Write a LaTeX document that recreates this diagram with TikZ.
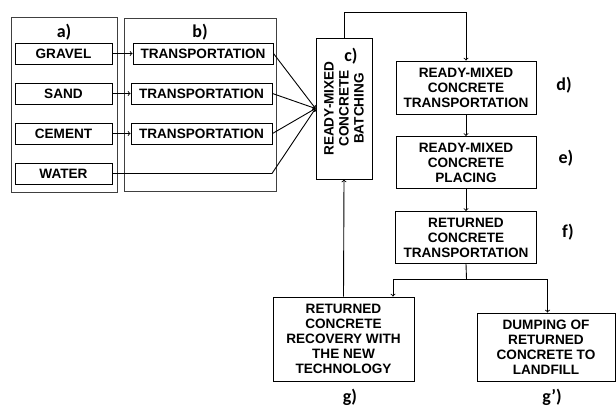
\documentclass[tikz,border=0pt]{standalone}
\usepackage{fontspec}
\setmainfont{Liberation Sans}
\newfontfamily\tagfont{Carlito}
\usetikzlibrary{shapes, arrows}
\tikzstyle{block} = [rectangle, draw, line width=1pt, inner sep=0pt, align=center, font=\fontsize{13.6}{15}\selectfont\bfseries]
\tikzstyle{group} = [draw=black!75, line width=0.8pt]
\tikzstyle{tag} = [font=\fontsize{18}{20}\selectfont\tagfont\bfseries]
\tikzstyle{line} = [draw, line width=0.9pt, ->]

\begin{document}
\begin{tikzpicture}[x=1pt, y=-1pt, node distance=75pt]
    \useasboundingbox (0,0) rectangle (616,407);

    % raw materials and their transport
    \draw[group] (11,17) rectangle (117,192);
    \draw[group] (124,18) rectangle (276,191);
    \node[tag] (taga) at (64,32) {a)};
    \node[tag] (tagb) at (200,32) {b)};

    \node[block, minimum width=97pt, minimum height=21pt] (gravel) at (63.5,53.5) {GRAVEL};
    \node[block, minimum width=97pt, minimum height=21pt] (sand) at (63.5,93.5) {SAND};
    \node[block, minimum width=97pt, minimum height=21pt] (cement) at (63.5,133.5) {CEMENT};
    \node[block, minimum width=97pt, minimum height=21pt] (water) at (63.5,173.5) {WATER};

    \node[block, minimum width=140pt, minimum height=21pt] (trgravel) at (203,53.5) {TRANSPORTATION};
    \node[block, minimum width=141pt, minimum height=21pt] (trsand) at (201.5,93.5) {TRANSPORTATION};
    \node[block, minimum width=141pt, minimum height=21pt] (trcement) at (201.5,133.5) {TRANSPORTATION};

    % plant and delivery chain
    \node[block, rotate=90, minimum width=141pt, minimum height=56pt] (batch) at (344,108.5) {READY-MIXED\\CONCRETE\\BATCHING};
    \node[tag] (tagc) at (351,56) {c)};

    \node[block, minimum width=140pt, minimum height=53pt] (deliver) at (466,87.5) {READY-MIXED\\CONCRETE\\TRANSPORTATION};
    \node[block, minimum width=140pt, minimum height=52pt, below of=deliver] (placing) {READY-MIXED\\CONCRETE\\PLACING};
    \node[block, minimum width=141pt, minimum height=52pt, below of=placing] (returned) {RETURNED\\CONCRETE\\TRANSPORTATION};
    \node[tag] (tagd) at (564,85) {d)};
    \node[tag] (tage) at (566,158) {e)};
    \node[tag] (tagf) at (568,232) {f)};

    \node[block, minimum width=141pt, minimum height=84pt] (recovery) at (343.5,339) {RETURNED\\CONCRETE\\RECOVERY WITH\\THE NEW\\TECHNOLOGY};
    \node[block, minimum width=138pt, minimum height=68pt] (landfill) at (546,347) {DUMPING OF\\RETURNED\\CONCRETE TO\\LANDFILL};
    \node[tag] (tagg) at (350,397) {g)};
    \node[tag] (taggg) at (552,397) {g’)};

    \coordinate (wbend) at (272,173.5);
    \coordinate (over) at (344,12);
    \coordinate (split) at (466.5,279);

    \path[line] (gravel.east) -- (trgravel.west);
    \path[line] (sand.east) -- (trsand.west);
    \path[line] (cement.east) -- (trcement.west);
    \path[line] (trgravel.east) -- (batch.north);
    \path[line] (trsand.east) -- (batch.north);
    \path[line] (trcement.east) -- (batch.north);
    \path[line] (water.east) -- (wbend) -- (batch.north);

    \path[line] (batch.east) -- (over) -| (deliver.north);
    \path[line] (deliver) -- (placing);
    \path[line] (placing) -- (returned);
    \draw[line width=0.9pt] (returned.south) -- (split);
    \path[line] (split) -| ([xshift=49.5pt]recovery.north);
    \path[line] (split) -| ([xshift=1.5pt]landfill.north);
    \path[line] (recovery.north) -- (batch.west);
\end{tikzpicture}
\end{document}
